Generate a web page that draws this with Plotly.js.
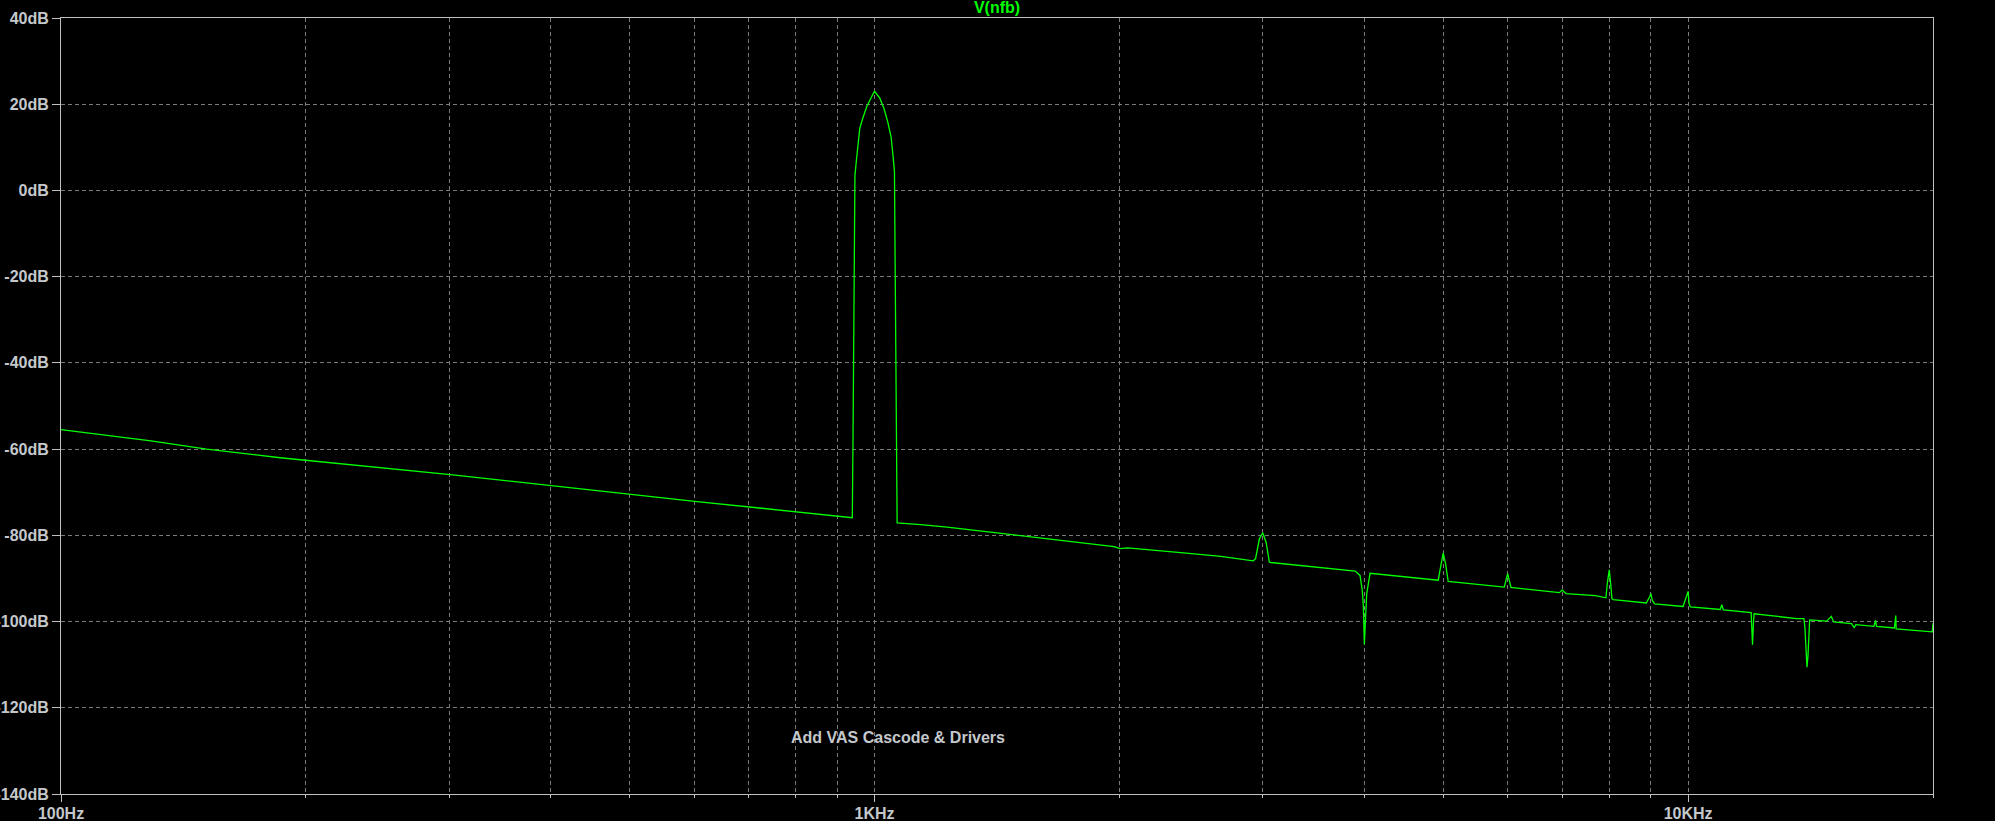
<!DOCTYPE html>
<html>
<head>
<meta charset="utf-8">
<script src="https://cdn.plot.ly/plotly-3.0.1.min.js"></script>
<style>
  html, body { margin: 0; padding: 0; background: #000; }
  #chart { width: 1995px; height: 821px; }
</style>
</head>
<body>
<div id="chart"></div>
<script>
// Frequency (Hz) and magnitude (dB) of V(nfb)
const freqHz = [
  100, 112, 129, 151, 186, 301, 402, 502, 601, 703, 806, 905, 939,
  941, 943, 946, 950, 954, 959, 967, 978, 991, 1000, 1015, 1027, 1038, 1048, 1054, 1058, 1060, 1064, 1066,
  1139, 1228, 1484, 1792, 1970, 2003, 2046, 2379, 2665,
  2920, 2940, 2972, 3000, 3029, 3057, 3070,
  3897, 3951, 3977, 3989, 4000, 4016, 4027, 4065,
  4930, 4963, 5000, 5034, 5071,
  5944, 6000, 6058,
  6947, 7000, 7080,
  7693, 7925, 7955, 7986, 8000, 8032, 8061, 8091,
  8883, 8967, 9000, 9036, 9095,
  9859, 9972, 10000, 10028, 10068,
  10950, 11000, 11050,
  11955, 11966, 11980, 12000, 12034, 12054,
  13590, 13878, 13917, 13956, 14000, 14040, 14080, 14107,
  14800, 15000, 15098,
  15882, 16000, 16080,
  16920, 17000, 17045,
  17930, 18000, 18020,
  19960, 20000
];
const magDb = [
  -55.5, -56.6, -58.1, -60.0, -62.0, -65.9, -68.6, -70.5, -72.1, -73.4, -74.5, -75.6, -75.9,
  -56.4, -17.3, 3.5, 7.0, 10.9, 14.4, 16.7, 19.4, 21.6, 23.0, 21.4, 19.0, 15.9, 12.4, 7.8, 4.3, -16.9, -57.0, -77.1,
  -77.5, -78.1, -79.9, -81.7, -82.6, -83.1, -82.9, -84.0, -84.9,
  -85.9, -85.4, -80.8, -79.4, -81.6, -86.2, -86.3,
  -88.3, -89.3, -92.8, -96.6, -105.3, -98.2, -93.5, -88.8,
  -90.4, -87.4, -84.1, -86.6, -90.7,
  -92.0, -88.9, -92.1,
  -93.3, -92.7, -93.5,
  -94.0, -94.5, -91.2, -88.9, -88.0, -91.2, -94.7, -94.9,
  -95.7, -94.3, -93.5, -95.1, -95.9,
  -96.5, -93.9, -93.0, -95.9, -96.6,
  -97.2, -96.1, -97.3,
  -97.9, -100.0, -103.6, -105.4, -100.1, -98.2,
  -99.3, -99.3, -101.3, -105.1, -110.6, -107.9, -99.7, -99.6,
  -99.9, -98.8, -100.1,
  -100.5, -101.4, -100.7,
  -101.1, -99.7, -101.1,
  -101.5, -98.6, -101.7,
  -102.4, -100.4
];

// Axis ticks
const xTickVals = [100, 1000, 10000];
const xTickText = ['100Hz', '1KHz', '10KHz'];
const xMinorVals = [200, 300, 400, 500, 600, 700, 800, 900,
                    2000, 3000, 4000, 5000, 6000, 7000, 8000, 9000, 20000];
const yTickVals = [40, 20, 0, -20, -40, -60, -80, -100, -120, -140];
const yTickText = ['40dB', '20dB', '0dB', '-20dB', '-40dB', '-60dB', '-80dB', '-100dB', '-120dB', '-140dB'];

const traceName = 'V(nfb)';
const noteText = 'Add VAS Cascode & Drivers';

const axisCol = '#c0c0c0';
const gridCol = '#7a7a7a';
const labelFont = { family: '"Liberation Sans", Arial, sans-serif', size: 16, color: '#c4c8cc', weight: 'bold' };

const data = [{
  x: freqHz,
  y: magDb,
  type: 'scatter',
  mode: 'lines',
  name: traceName,
  line: { color: '#00ff00', width: 1.3 },
  hoverinfo: 'skip'
}];

const layout = {
  width: 1995,
  height: 821,
  paper_bgcolor: '#000000',
  plot_bgcolor: '#000000',
  margin: { l: 61, r: 62, t: 18, b: 27, pad: 0 },
  showlegend: false,
  font: labelFont,
  title: {
    text: traceName,
    font: { family: '"Liberation Sans", Arial, sans-serif', size: 16, color: '#00ff00', weight: 'bold' },
    x: 0.5, xref: 'paper', xanchor: 'center',
    y: 1 - 7 / 821, yref: 'container', yanchor: 'middle'
  },
  xaxis: {
    type: 'log',
    range: [2, Math.log10(20000)],
    tickmode: 'array',
    tickvals: xTickVals,
    ticktext: xTickText,
    ticks: 'outside',
    ticklen: 7,
    tickwidth: 1,
    tickcolor: axisCol,
    tickfont: labelFont,
    ticklabelstandoff: -2,
    showgrid: true,
    gridcolor: gridCol,
    gridwidth: 1,
    griddash: '4px,3px',
    showline: true,
    linecolor: axisCol,
    linewidth: 1,
    mirror: true,
    zeroline: false,
    fixedrange: true,
    minor: {
      tickmode: 'array',
      tickvals: xMinorVals,
      ticks: 'outside',
      ticklen: 3,
      tickwidth: 1,
      tickcolor: axisCol,
      showgrid: true,
      gridcolor: gridCol,
      gridwidth: 1,
      griddash: '4px,3px'
    }
  },
  yaxis: {
    range: [-140, 40],
    tickmode: 'array',
    tickvals: yTickVals,
    ticktext: yTickText,
    ticks: 'outside',
    ticklen: 8,
    tickwidth: 1,
    tickcolor: axisCol,
    tickfont: labelFont,
    showgrid: true,
    gridcolor: gridCol,
    gridwidth: 1,
    griddash: '4px,3px',
    showline: true,
    linecolor: axisCol,
    linewidth: 1,
    mirror: true,
    zeroline: false,
    fixedrange: true
  },
  annotations: [{
    text: noteText,
    xref: 'paper', yref: 'paper',
    x: (789 - 61) / 1872, y: (794 - 737) / 776,
    xanchor: 'left', yanchor: 'middle',
    showarrow: false,
    font: labelFont
  }]
};

Plotly.newPlot('chart', data, layout, { staticPlot: true, displayModeBar: false });
</script>
</body>
</html>
